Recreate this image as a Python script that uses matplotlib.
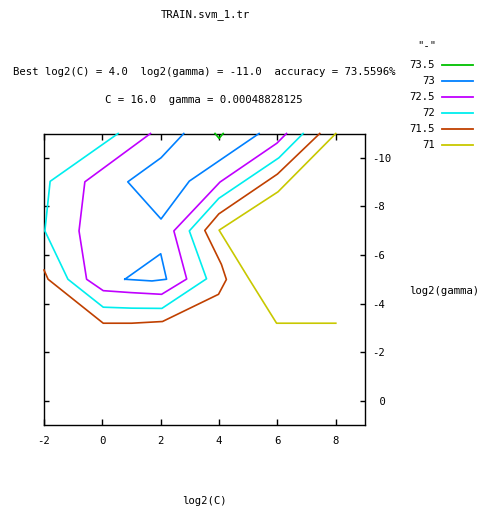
import matplotlib
matplotlib.use('Agg')
import matplotlib.pyplot as plt
from matplotlib.lines import Line2D

# contour levels (accuracy %) and gnuplot's default line colours
levels = [73.5, 73, 72.5, 72, 71.5, 71]
level_colors = ['#00c000', '#0080ff', '#c000ff', '#00eeee', '#c04000', '#c8c800']

# contour paths, as log2(C), log2(gamma)
log2c_735 = [3.86, 4.0, 4.14]
log2g_735 = [-11.0, -10.8, -11.0]

log2c_73a = [2.79, 2.01, 0.87, 2.01, 2.98, 5.37]
log2g_73a = [-11.0, -10.0, -9.01, -7.48, -9.04, -11.0]
log2c_73b = [0.77, 2.0, 2.2, 1.7, 0.77]
log2g_73b = [-5.0, -6.05, -5.0, -4.93, -5.0]

log2c_725 = [1.65, -0.60, -0.80, -0.54, 0.03, 0.98, 2.03, 2.89, 2.45, 4.03, 5.98, 6.31]
log2g_725 = [-11.0, -9.01, -6.99, -5.0, -4.53, -4.45, -4.38, -5.01, -6.99, -9.0, -10.6, -11.0]

log2c_72 = [0.54, -1.79, -1.97, -1.18, 0.03, 1.01, 2.04, 3.57, 2.98, 3.99, 6.05, 6.88]
log2g_72 = [-11.0, -9.03, -6.99, -5.0, -3.85, -3.81, -3.8, -5.02, -6.99, -8.33, -10.0, -11.0]

log2c_715 = [7.45, 6.0, 3.99, 3.51, 4.08, 4.25, 3.98, 2.06, 1.0, 0.03, -1.86, -2.0]
log2g_715 = [-11.0, -9.33, -7.69, -7.01, -5.61, -4.99, -4.38, -3.26, -3.19, -3.19, -5.0, -5.38]

log2c_71 = [8.0, 6.02, 4.0, 5.0, 5.97, 8.0]
log2g_71 = [-11.0, -8.6, -7.02, -5.06, -3.19, -3.19]

contour_lines = [
    [(log2c_735, log2g_735)],
    [(log2c_73a, log2g_73a), (log2c_73b, log2g_73b)],
    [(log2c_725, log2g_725)],
    [(log2c_72, log2g_72)],
    [(log2c_715, log2g_715)],
    [(log2c_71, log2g_71)],
]

x_ticks = [-2, 0, 2, 4, 6, 8]
y_ticks = [0, -2, -4, -6, -8, -10]

W, H = 480, 508
FONT = 'DejaVu Sans Mono'
FS = 7.7


def fpos(x, y):
    # pixel position (from top left) to figure fraction
    return x / W, 1 - y / H


fig = plt.figure(figsize=(W / 100, H / 100), dpi=100)
ax = fig.add_axes([44 / W, 1 - 425 / H, (365 - 44) / W, (425 - 133.5) / H])

for segs, col in zip(contour_lines, level_colors):
    for xs, ys in segs:
        ax.plot(xs, ys, color=col, lw=1.2, clip_on=False, zorder=3)

ax.set_xlim(-2, 9)
ax.set_ylim(1, -11)
ax.set_xticks(x_ticks)
ax.set_xticklabels([str(v) for v in x_ticks], family=FONT, fontsize=FS)
ax.set_yticks(y_ticks)
ax.set_yticklabels(['%2d' % v if v >= 0 else str(v) for v in y_ticks],
                   family=FONT, fontsize=FS, ha='left')
ax.tick_params(axis='x', direction='in', length=4.5, width=1, top=True, pad=8)
ax.tick_params(axis='y', direction='in', length=3.5, width=1, left=True, right=True,
               labelleft=False, labelright=True, pad=5.5)
for s in ax.spines.values():
    s.set_linewidth(1.0)

# titles and labels, placed like gnuplot does
fig.text(*fpos(205, 15), 'TRAIN.svm_1.tr', ha='center', va='center', family=FONT, fontsize=FS)
fig.text(*fpos(204, 72), 'Best log2(C) = 4.0  log2(gamma) = -11.0  accuracy = 73.5596%',
         ha='center', va='center', family=FONT, fontsize=FS)
fig.text(*fpos(204, 100), 'C = 16.0  gamma = 0.00048828125',
         ha='center', va='center', family=FONT, fontsize=FS)
fig.text(*fpos(204.7, 501), 'log2(C)', ha='center', va='center', family=FONT, fontsize=FS)
fig.text(*fpos(409, 291), 'log2(gamma)', ha='left', va='center', family=FONT, fontsize=FS)

# key
fig.text(*fpos(427, 45), '"-"', ha='center', va='center', family=FONT, fontsize=FS)
for i, (lev, col) in enumerate(zip(levels, level_colors)):
    ky = 64.5 + i * 16.1
    fig.text(*fpos(435, ky), '%g' % lev, ha='right', va='center', family=FONT, fontsize=FS)
    x0, y0 = fpos(441.7, ky)
    x1, _ = fpos(472.7, ky)
    fig.add_artist(Line2D([x0, x1], [y0, y0], color=col, lw=1.3, transform=fig.transFigure))

fig.savefig('out.png', dpi=100)
